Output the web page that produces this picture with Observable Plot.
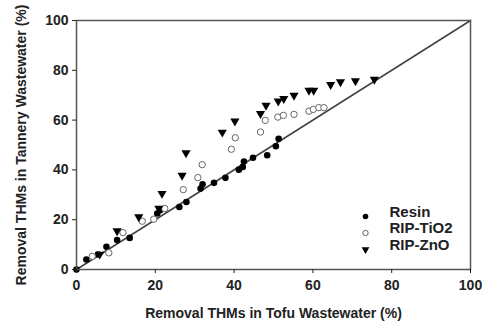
<!DOCTYPE html>
<html><head><meta charset="utf-8">
<script src="https://cdn.jsdelivr.net/npm/d3@7"></script>
<script src="https://cdn.jsdelivr.net/npm/@observablehq/plot@0.6"></script>
<style>body{margin:0;background:#fff}</style>
</head><body><div id="chart"></div>
<script>
const resinX = [0, 2.5, 5.5, 7.6, 10.3, 13.5, 20.5, 21.2, 26.1, 27.9, 31.5, 32.0, 34.9, 37.8, 41.2, 42.2, 42.5, 44.8, 48.4, 50.6, 51.3];
const resinY = [0, 4.0, 6.0, 9.1, 11.8, 12.7, 22.5, 23.8, 25.1, 27.1, 32.5, 34.2, 34.8, 36.8, 40.1, 41.2, 43.4, 44.9, 45.9, 49.5, 52.5];
const tio2X = [4.0, 8.2, 11.8, 16.7, 19.6, 22.4, 27.1, 30.8, 31.9, 39.3, 40.3, 46.7, 47.9, 51.1, 52.5, 55.2, 59.0, 60.1, 61.5, 62.8];
const tio2Y = [5.3, 6.7, 14.8, 19.4, 20.2, 24.5, 32.1, 36.9, 42.1, 48.3, 52.9, 55.2, 59.9, 61.2, 61.9, 62.3, 63.6, 64.3, 65.0, 65.0];
const znoX = [5.9, 10.3, 15.8, 20.9, 21.7, 26.8, 27.8, 37.0, 40.2, 46.7, 48.1, 51.2, 52.6, 55.2, 59.0, 60.2, 64.5, 67.0, 70.8, 75.6];
const znoY = [6.1, 15.5, 21.1, 24.5, 30.5, 37.8, 46.8, 55.1, 59.6, 62.6, 65.9, 67.6, 68.6, 69.9, 71.9, 71.9, 74.2, 75.3, 75.7, 76.3];
const diagonal = [0, 100];
const ticks = [0, 20, 40, 60, 80, 100];
const seriesNames = ["Resin", "RIP-TiO2", "RIP-ZnO"];
const xLabel = "Removal THMs in Tofu Wastewater (%)";
const yLabel = "Removal THMs in Tannery Wastewater (%)";

const pts = (xs, ys) => xs.map((x, i) => ({x, y: ys[i]}));

const styles = [
  {r: 3.3, fill: "#000", stroke: "none"},
  {r: 3.2, fill: "#fff", stroke: "#666", strokeWidth: 1},
  {r: 3.4, symbol: "triangle", rotate: 180, fill: "#000", stroke: "none"}
];
const legendStyles = [
  {r: 2.8, fill: "#000", stroke: "none"},
  {r: 2.7, fill: "#fff", stroke: "#666", strokeWidth: 1},
  {r: 2.9, symbol: "triangle", rotate: 180, fill: "#000", stroke: "none"}
];
const rowDy = [-53, -36.5, -20];
const legendMarks = seriesNames.flatMap((name, i) => [
  Plot.dot([name], {frameAnchor: "bottom-right", dx: -105, dy: rowDy[i], ...legendStyles[i]}),
  Plot.text([name], {frameAnchor: "bottom-right", dx: -81, dy: rowDy[i], text: d => d, textAnchor: "start", fontSize: 15, fontWeight: "bold", fill: "#222"})
]);

const chart = Plot.plot({
  width: 484, height: 325,
  marginLeft: 76, marginRight: 14, marginTop: 20, marginBottom: 56,
  style: {fontFamily: "Liberation Sans, Arial, sans-serif", fontSize: "14px", fontWeight: "bold", color: "#222", background: "#fff"},
  x: {domain: [0, 100]},
  y: {domain: [0, 100]},
  marks: [
    Plot.line(diagonal, {x: d => d, y: d => d, stroke: "#444", strokeWidth: 1.6}),
    Plot.dot(pts(resinX, resinY), {x: "x", y: "y", ...styles[0]}),
    Plot.dot(pts(tio2X, tio2Y), {x: "x", y: "y", ...styles[1]}),
    Plot.dot(pts(znoX, znoY), {x: "x", y: "y", ...styles[2]}),
    Plot.frame({stroke: "#555", strokeWidth: 1.5}),
    Plot.axisX({ticks, tickSize: 4, tickPadding: 7, label: xLabel, labelAnchor: "center", labelArrow: "none", labelOffset: 48, fontSize: 14}),
    Plot.axisY({ticks, tickSize: 4, tickPadding: 4, label: yLabel, labelAnchor: "center", labelArrow: "none", labelOffset: 60, fontSize: 14}),
    ...legendMarks
  ]
});
document.getElementById("chart").appendChild(chart);
</script></body></html>
